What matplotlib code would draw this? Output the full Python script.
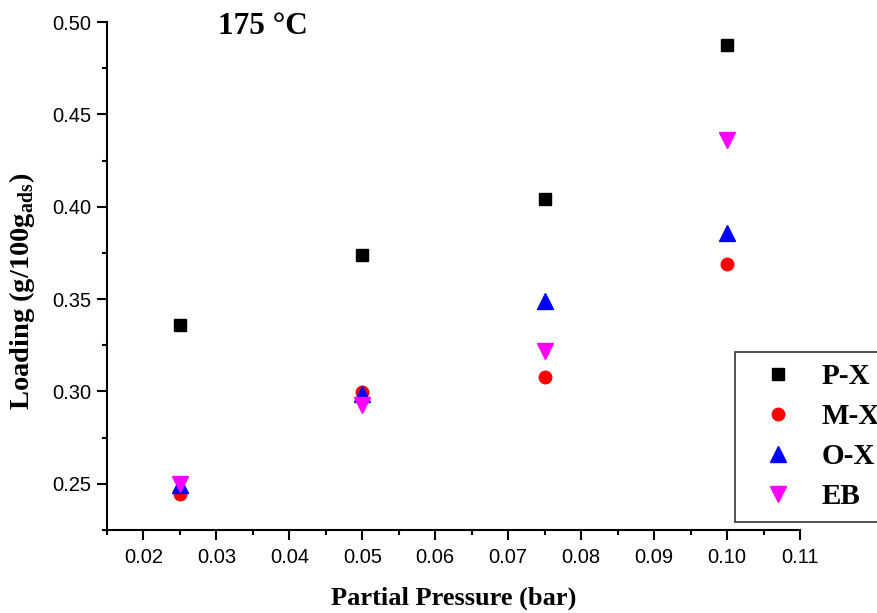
import matplotlib.pyplot as plt
from matplotlib.ticker import MultipleLocator

# --- Data ---
pressure = [0.025, 0.050, 0.075, 0.100]
px_loading = [0.336, 0.374, 0.404, 0.4875]
mx_loading = [0.2445, 0.2995, 0.308, 0.369]
ox_loading = [0.2495, 0.2985, 0.349, 0.386]
eb_loading = [0.250, 0.2925, 0.322, 0.436]

series = [
    ('P-X', px_loading, 's', 'black', 8),
    ('M-X', mx_loading, 'o', 'red', 9),
    ('O-X', ox_loading, '^', 'blue', 11),
    ('EB', eb_loading, 'v', 'magenta', 11),
]

serif = ['Liberation Serif', 'DejaVu Serif']
sans = ['Liberation Sans', 'DejaVu Sans']

plt.rcParams['mathtext.fontset'] = 'custom'
plt.rcParams['mathtext.bf'] = 'Liberation Serif:bold'
plt.rcParams['mathtext.rm'] = 'Liberation Serif'

fig = plt.figure(figsize=(8.78, 6.13), dpi=100)
ax = fig.add_axes([107 / 878, 1 - 530 / 613, (800 - 107) / 878, (530 - 22) / 613])

for name, vals, marker, color, ms in series:
    ax.plot(pressure, vals, linestyle='none', marker=marker, color=color,
            markersize=ms, label=name)

ax.set_xlim(0.015, 0.11)
ax.set_ylim(0.225, 0.50)
ax.xaxis.set_major_locator(MultipleLocator(0.01))
ax.xaxis.set_minor_locator(MultipleLocator(0.005))
ax.yaxis.set_major_locator(MultipleLocator(0.05))
ax.yaxis.set_minor_locator(MultipleLocator(0.025))
ax.xaxis.set_major_formatter(plt.FuncFormatter(lambda v, p: f'{v:.2f}'))
ax.yaxis.set_major_formatter(plt.FuncFormatter(lambda v, p: f'{v:.2f}'))

for side in ['top', 'right']:
    ax.spines[side].set_visible(False)
for side in ['left', 'bottom']:
    ax.spines[side].set_linewidth(1.5)

ax.tick_params(which='major', direction='out', length=7, width=1.5, labelsize=14.5)
ax.tick_params(which='minor', direction='out', length=3.6, width=1.5)
ax.tick_params(axis='x', which='major', pad=6)
ax.tick_params(axis='y', which='major', pad=4)
for lbl in ax.get_xticklabels() + ax.get_yticklabels():
    lbl.set_family(sans)

ax.set_xlabel('Partial Pressure (bar)', family=serif, fontweight='bold', fontsize=19, labelpad=14)
ax.set_ylabel(r'Loading (g/100g$_{\mathbf{ads}}$)', family=serif, fontweight='bold', fontsize=20.5)
ax.yaxis.set_label_coords(-0.101, 0.47)

fig.text(218 / 878, 1 - 27 / 613, '175 °C', family=serif, fontweight='bold', fontsize=22.5,
         va='center', ha='left')

leg = ax.legend(loc='upper left', bbox_to_anchor=(735 / 878, 1 - 352 / 613),
                bbox_transform=fig.transFigure, frameon=True, fancybox=False,
                shadow=False, borderpad=0.38, handletextpad=0.41, labelspacing=0.45,
                prop={'family': serif, 'weight': 'bold', 'size': 21},
                handlelength=2.18, borderaxespad=0)
leg.get_frame().set_edgecolor('black')
leg.get_frame().set_linewidth(1.2)

fig.savefig('out.png', dpi=100)
